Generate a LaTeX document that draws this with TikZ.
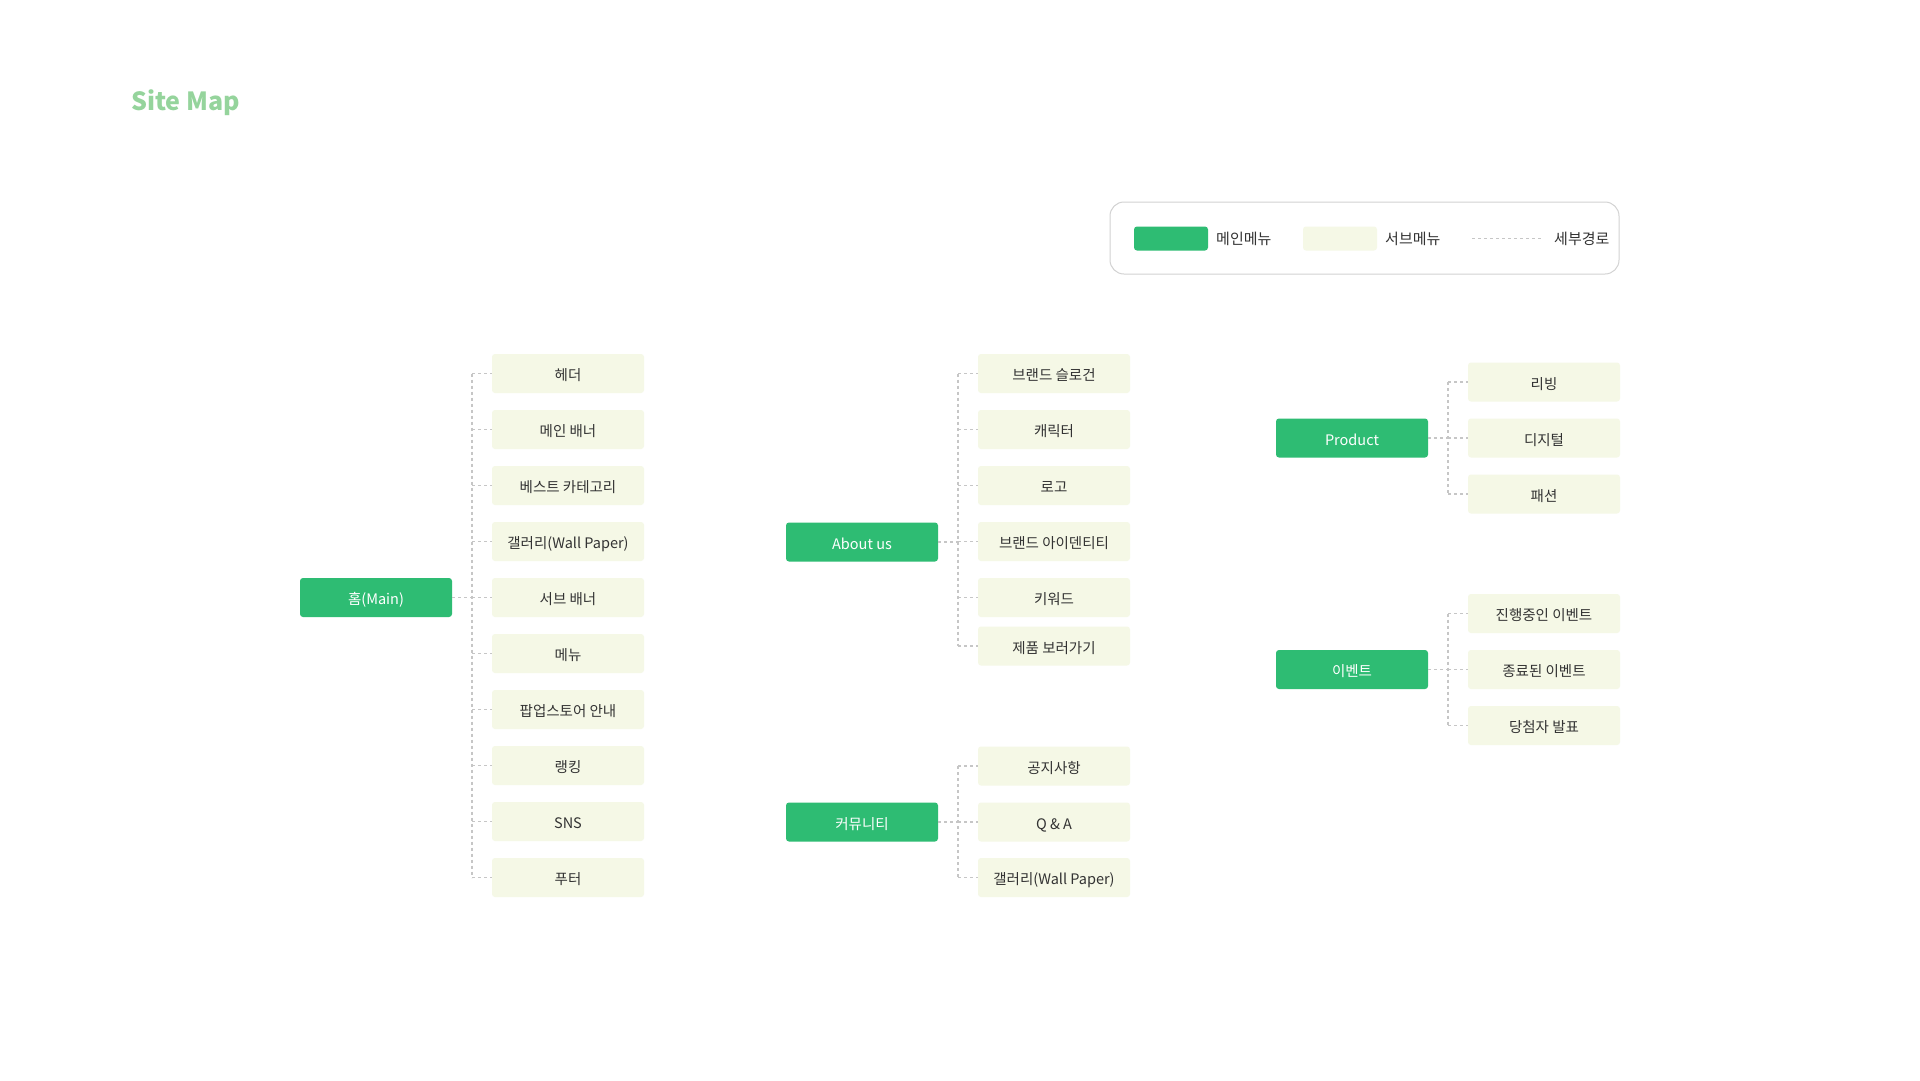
\documentclass[tikz,border=0pt]{standalone}
\usepackage{fontspec}
\setmainfont{Noto Sans CJK KR}
\definecolor{mgreen}{HTML}{2EBC73}
\definecolor{cream}{HTML}{F5F8E6}
\definecolor{tgreen}{HTML}{95D49C}
\definecolor{dline}{HTML}{C6C6C6}
\definecolor{txt}{HTML}{333333}
\definecolor{lborder}{HTML}{D2D2D2}
\newcommand\mynodefont{\fontsize{14.5}{17}\selectfont}
\newcommand\mylegfont{\fontsize{15}{18}\selectfont}
\begin{document}
\begin{tikzpicture}[x=1pt,y=-1pt,
  mainbox/.style={fill=mgreen, text=white, rounded corners=3pt, minimum width=152pt, minimum height=39pt, inner sep=0pt, text height=14pt, text depth=0pt, font=\mynodefont},
  subbox/.style={fill=cream, text=txt, rounded corners=3pt, minimum width=152pt, minimum height=39pt, inner sep=0pt, text height=14pt, text depth=0pt, font=\mynodefont},
  link/.style={draw=dline, line width=1.3pt, dash pattern=on 3pt off 3pt},
  legtext/.style={anchor=west, inner sep=0pt, text=txt, text height=11.2pt, text depth=0pt, font=\mylegfont}]
\useasboundingbox[fill=white] (0,0) rectangle (1920,1080);

% title
\node[anchor=base west, inner sep=0pt, text=tgreen, font=\fontsize{25}{30}\selectfont\bfseries] (title) at (131,110) {Site Map};

% legend
\node[draw=lborder, line width=1pt, rounded corners=14pt, minimum width=509pt, minimum height=72pt, inner sep=0pt] (legend) at (1364.5,238) {};
\node[fill=mgreen, rounded corners=3pt, minimum width=74pt, minimum height=24pt, inner sep=0pt] (lgmain) at (1171,238.5) {};
\node[legtext] (lgmaint) at (1216,238.5) {메인메뉴};
\node[fill=cream, rounded corners=3pt, minimum width=74pt, minimum height=24pt, inner sep=0pt] (lgsub) at (1340,238.5) {};
\node[legtext] (lgsubt) at (1385,238.5) {서브메뉴};
\coordinate (lgl1) at (1472,238.5);
\coordinate (lgl2) at (1541,238.5);
\draw[draw=dline, line width=1.1pt, dash pattern=on 3pt off 3pt] (lgl1) -- (lgl2);
\node[legtext] (lgpatht) at (1554,238.5) {세부경로};

% ---------- Home column ----------
\node[mainbox] (home) at (376,597.5) {홈(Main)};
\foreach \t [count=\i] in {헤더,메인 배너,베스트 카테고리,갤러리(Wall Paper),서브 배너,메뉴,팝업스토어 안내,랭킹,SNS,푸터}
  \node[subbox] (h\i) at (568,{373.5+56*(\i-1)}) {\t};
\coordinate (hb) at (472,0);
\draw[link] (home.east) -- (home.east -| hb);
\draw[link] (hb |- h1.west) -- (hb |- h10.west);
\foreach \i in {1,...,10} \draw[link] (hb |- h\i.west) -- (h\i.west);

% ---------- About us column ----------
\node[mainbox] (about) at (862,542) {About us};
\node[subbox] (a1) at (1054,373.5) {브랜드 슬로건};
\node[subbox] (a2) at (1054,429.5) {캐릭터};
\node[subbox] (a3) at (1054,485.5) {로고};
\node[subbox] (a4) at (1054,541.5) {브랜드 아이덴티티};
\node[subbox] (a5) at (1054,597.5) {키워드};
\node[subbox] (a6) at (1054,646) {제품 보러가기};
\coordinate (ab) at (958,0);
\draw[link] (about.east) -- (about.east -| ab);
\draw[link] (ab |- a1.west) -- (ab |- a6.west);
\foreach \i in {1,...,6} \draw[link] (ab |- a\i.west) -- (a\i.west);

% ---------- Community ----------
\node[mainbox] (comm) at (862,822) {커뮤니티};
\node[subbox] (c1) at (1054,766) {공지사항};
\node[subbox] (c2) at (1054,822) {Q \& A};
\node[subbox] (c3) at (1054,877.5) {갤러리(Wall Paper)};
\coordinate (cb) at (958,0);
\draw[link] (comm.east) -- (comm.east -| cb);
\draw[link] (cb |- c1.west) -- (cb |- c3.west);
\foreach \i in {1,...,3} \draw[link] (cb |- c\i.west) -- (c\i.west);

% ---------- Product ----------
\node[mainbox] (prod) at (1352,438) {Product};
\node[subbox] (p1) at (1544,382) {리빙};
\node[subbox] (p2) at (1544,438) {디지털};
\node[subbox] (p3) at (1544,494) {패션};
\coordinate (pb) at (1448,0);
\draw[link] (prod.east) -- (prod.east -| pb);
\draw[link] (pb |- p1.west) -- (pb |- p3.west);
\foreach \i in {1,...,3} \draw[link] (pb |- p\i.west) -- (p\i.west);

% ---------- Event ----------
\node[mainbox] (evt) at (1352,669.5) {이벤트};
\node[subbox] (e1) at (1544,613.5) {진행중인 이벤트};
\node[subbox] (e2) at (1544,669.5) {종료된 이벤트};
\node[subbox] (e3) at (1544,725.5) {당첨자 발표};
\coordinate (eb) at (1448,0);
\draw[link] (evt.east) -- (evt.east -| eb);
\draw[link] (eb |- e1.west) -- (eb |- e3.west);
\foreach \i in {1,...,3} \draw[link] (eb |- e\i.west) -- (e\i.west);
\end{tikzpicture}
\end{document}
